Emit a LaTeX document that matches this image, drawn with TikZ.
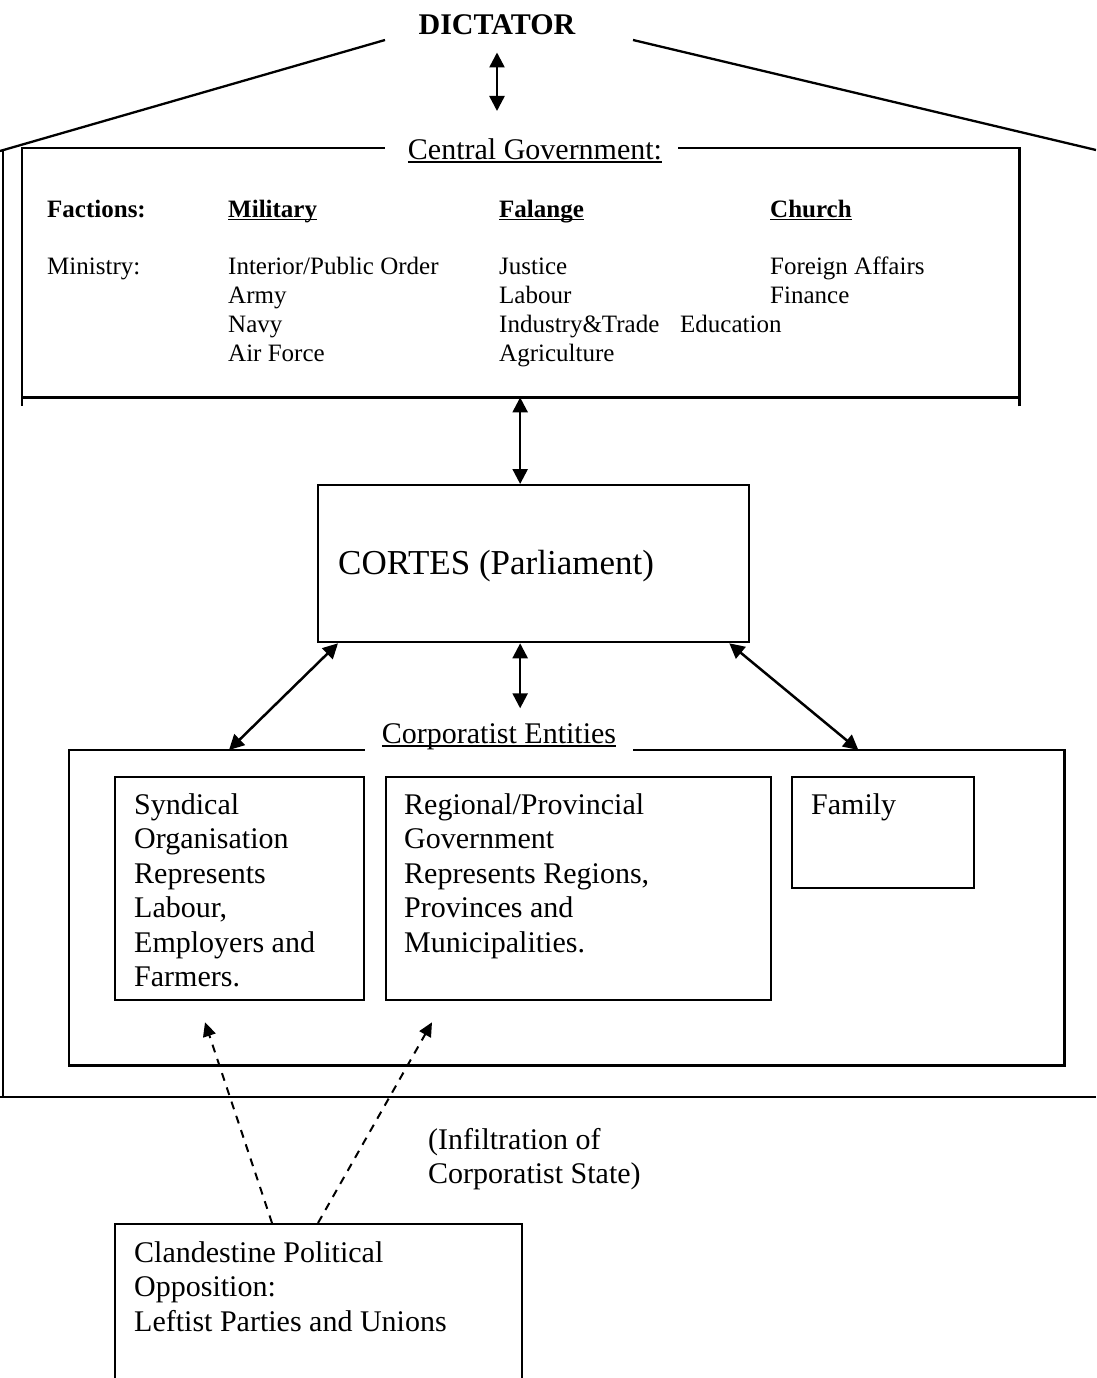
\documentclass[tikz,border=0pt]{standalone}
\usepackage{fontspec}
\setmainfont{Liberation Serif}
\usetikzlibrary{arrows.meta}

% underline at a fixed depth below the baseline
\newcommand\undr[1]{\setbox0\hbox{#1}\rlap{\rule[-0.12em]{\wd0}{0.06em}}#1}
% left-aligned block of lines, baseline on its first line
\newcommand\stack[1]{\begin{tabular}[t]{@{}l@{}}#1\end{tabular}}

\tikzset{
  line/.style={line width=2.3pt},
  box/.style={draw, line width=2.3pt, rectangle, inner sep=0pt, anchor=north west},
  frame/.style={rectangle, inner sep=0pt, anchor=north west},
  txt/.style={inner sep=0pt, anchor=base west, font=\fontsize{30}{34.5}\selectfont},
  small/.style={inner sep=0pt, anchor=base west, font=\fontsize{25}{29}\selectfont},
  dbl/.style={line width=2.5pt, {Triangle[length=15pt,width=15pt]}-{Triangle[length=15pt,width=15pt]}},
  infil/.style={line width=2pt, dash pattern=on 8pt off 7pt, -{Triangle[length=14pt,width=13pt]}},
}

\begin{document}
\begin{tikzpicture}[x=1pt,y=-1pt]
\useasboundingbox (0,0) rectangle (1096,1378);
\clip (0,0) rectangle (1096,1378);
\fill[white] (0,0) rectangle (1096,1378);

% roof and walls of the state
\draw[line] (385,40) -- (0,151);
\draw[line] (633,40) -- (1096,150);
\draw[line] (3,150) -- (3,1097);
\draw[line] (0,1097) -- (1096,1097);

% dictator
\node[txt, anchor=base, font=\fontsize{30}{36}\selectfont\bfseries] (dict) at (497,35) {DICTATOR};

% central government
\node[frame, minimum width=997pt, minimum height=249pt] (cg) at (22,148) {};
\node[txt, anchor=base] (cgt) at (535,159) {\undr{Central Government:}};
\draw[line] ([xshift=-23pt]cgt.west |- cg.north) -- (cg.north west) -- ([yshift=-9pt]cg.south west);
\draw[line] (cg.south west) -- (cg.south east);
\draw[line] ([yshift=-9pt]cg.south east) -- (cg.north east) -- ([xshift=16pt]cgt.east |- cg.north);

\node[small] (fac) at (47,217) {\textbf{Factions:}};
\node[small] (mil) at (228,217) {\textbf{\undr{Military}}};
\node[small] (fal) at (499,217) {\textbf{\undr{Falange}}};
\node[small] (chu) at (770,217) {\textbf{\undr{Church}}};
\node[small] (min) at (47,274) {Ministry:};
\node[small] (milm) at (228,274) {\stack{Interior/Public Order\\Army\\Navy\\Air Force}};
\node[small] (falm) at (499,274) {\stack{Justice\\Labour\\Industry\&Trade\\Agriculture}};
\node[small] (chum) at (770,274) {\stack{Foreign Affairs\\Finance}};
\node[small] (edu) at (680,332) {Education};

% parliament
\node[box, minimum width=431pt, minimum height=157pt] (cortes) at (317,484) {};
\node[txt, font=\fontsize{35}{40}\selectfont] (cortest) at (338,574) {CORTES (Parliament)};

% corporatist entities
\node[frame, minimum width=995pt, minimum height=315pt] (ce) at (69,750) {};
\node[txt, anchor=base] (cet) at (499,743) {\undr{Corporatist Entities}};
\draw[line] ([xshift=-17pt]cet.west |- ce.north) -- (ce.north west) -- (ce.south west)
  -- (ce.south east) -- (ce.north east) -- ([xshift=17pt]cet.east |- ce.north);

\node[box, minimum width=249pt, minimum height=223pt] (synd) at (114,776) {};
\node[txt] (syndt) at (134,814) {\stack{Syndical\\Organisation\\Represents\\Labour,\\Employers and\\Farmers.}};
\node[box, minimum width=385pt, minimum height=223pt] (reg) at (385,776) {};
\node[txt] (regt) at (404,814) {\stack{Regional/Provincial\\Government\\Represents Regions,\\Provinces and\\Municipalities.}};
\node[box, minimum width=182pt, minimum height=111pt] (fam) at (791,776) {};
\node[txt] (famt) at (811,814) {Family};

% opposition
\node[box, minimum width=407pt, minimum height=220pt] (opp) at (114,1223) {};
\node[txt] (oppt) at (134,1262) {\stack{Clandestine Political\\Opposition:\\Leftist Parties and Unions}};
\node[txt] (inft) at (428,1149) {\stack{(Infiltration of\\Corporatist State)}};

% links
\draw[dbl] ([yshift=-17pt]dict.south) -- ([yshift=27pt]dict.south |- cgt.north);
\draw[dbl] ([xshift=-13.5pt]cortes.north |- cg.south) -- ([xshift=-13.5pt]cortes.north);
\draw[dbl] ([xshift=21pt]cortes.south west) -- ([xshift=160pt]ce.north west);
\draw[dbl] ([xshift=-13.5pt]cortes.south) -- ([xshift=-13.5pt,yshift=-65pt]cortes.south);
\draw[dbl] ([xshift=-21pt]cortes.south east) -- ([xshift=-206pt]ce.north east);
\draw[infil] ([xshift=158pt]opp.north west) -- ([xshift=91pt,yshift=-21pt]synd.south west);
\draw[infil] ([xshift=204pt]opp.north west) -- ([xshift=47pt,yshift=-21pt]reg.south west);
\end{tikzpicture}
\end{document}
